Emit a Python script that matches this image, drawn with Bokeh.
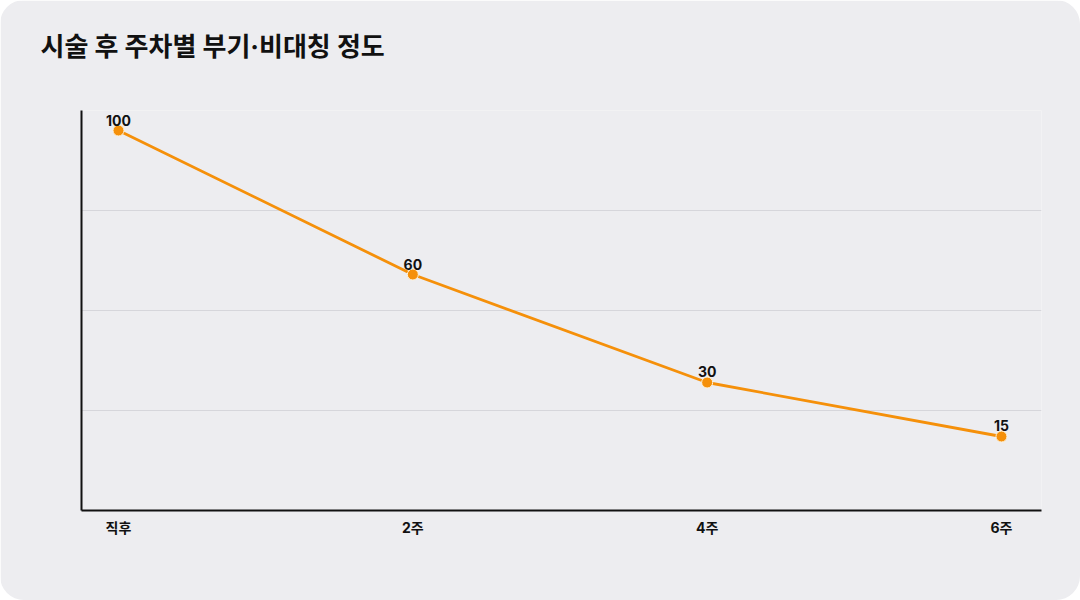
from bokeh.plotting import figure
from bokeh.models import FixedTicker, ColumnDataSource, Range1d, Title
from bokeh.core.properties import value
from bokeh.embed import file_html
from bokeh.resources import INLINE

# ---- data ----
categories = ["직후", "2주", "4주", "6주"]
swelling = [100, 60, 30, 15]
title_text = "시술 후 주차별 부기·비대칭 정도"

BG = "#ededf0"
ORANGE = "#f5900a"
FONT = "Inter, 'Noto Sans CJK KR'"

xs = list(range(len(categories)))
labels = [str(v) for v in swelling]
src = ColumnDataSource(dict(x=xs, y=swelling, label=labels))

p = figure(width=1080, height=600, output_backend="svg", toolbar_location=None,
           x_range=Range1d(-0.1257, 3.136), y_range=Range1d(-5.556, 105.556),
           min_border_left=81, min_border_right=39, min_border_top=110, min_border_bottom=90)

p.styles = {"border-radius": "24px", "overflow": "hidden"}
p.background_fill_color = BG
p.border_fill_color = BG
p.outline_line_color = None

# empty spacer between the frame and the title
spacer = Title(text=" ", text_font_size="10px", standoff=31, text_color=BG)
p.add_layout(spacer, "above")

p.title.text = title_text
p.title.text_font = FONT
p.title.text_font_size = "26px"
p.title.text_font_style = "bold"
p.title.text_color = "#111111"
p.title.align = "left"
p.title.offset = -41
p.title.standoff = 10

# grid
p.xgrid.grid_line_color = None
p.ygrid.grid_line_color = "#d6d6db"
p.ygrid.grid_line_width = 1
p.yaxis.ticker = FixedTicker(ticks=[105.556, 77.778, 50.0, 22.222])
p.yaxis.major_label_text_font_size = "0px"
p.yaxis.major_label_text_color = None
p.yaxis.major_tick_line_color = None
p.yaxis.major_tick_out = 0
p.yaxis.minor_tick_line_color = None
p.yaxis.axis_line_color = "#111111"
p.yaxis.axis_line_width = 2

p.xaxis.ticker = FixedTicker(ticks=xs)
p.xaxis.major_label_overrides = {i: c for i, c in enumerate(categories)}
p.xaxis.major_label_text_font = FONT
p.xaxis.major_label_text_font_size = "14px"
p.xaxis.major_label_text_font_style = "bold"
p.xaxis.major_label_text_color = "#111111"
p.xaxis.major_label_standoff = 8
p.xaxis.major_tick_line_color = None
p.xaxis.major_tick_out = 0
p.xaxis.minor_tick_line_color = None
p.xaxis.axis_line_color = "#111111"
p.xaxis.axis_line_width = 2

p.line("x", "y", source=src, line_color=ORANGE, line_width=2.8)
p.scatter("x", "y", source=src, size=11, fill_color=ORANGE, line_color="#fff4dc", line_width=1)
p.text("x", "y", text="label", source=src, text_font=value(FONT), text_font_size="14px",
       text_font_style="bold", text_color="#111111", text_align="center",
       text_baseline="bottom", y_offset=-5)

open("out.html", "w").write(file_html(p, INLINE))
